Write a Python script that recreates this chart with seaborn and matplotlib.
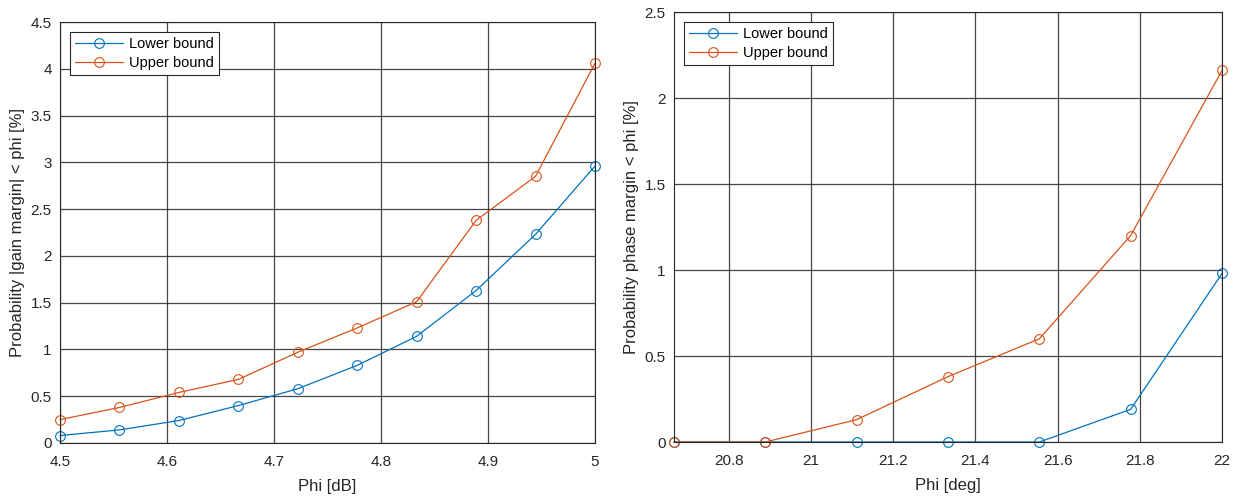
import matplotlib
matplotlib.use('Agg')
import matplotlib.pyplot as plt
import numpy as np
import pandas as pd
import seaborn as sns

# gain margin data (left)
phi_db = [4.5, 4.5556, 4.6111, 4.6667, 4.7222, 4.7778, 4.8333, 4.8889, 4.9444, 5.0]
gain_lower = [0.08, 0.14, 0.24, 0.40, 0.58, 0.83, 1.14, 1.63, 2.23, 2.96]
gain_upper = [0.25, 0.38, 0.54, 0.68, 0.97, 1.23, 1.51, 2.38, 2.85, 4.06]

# phase margin data (right)
phi_deg = [20.6667, 20.8889, 21.1111, 21.3333, 21.5556, 21.7778, 22.0]
phase_lower = [0.0, 0.0, 0.0, 0.0, 0.0, 0.19, 0.98]
phase_upper = [0.0, 0.0, 0.13, 0.38, 0.60, 1.20, 2.16]

series_names = ['Lower bound', 'Upper bound']
colors = ['#0072BD', '#D95319']
txt = '#262626'

sns.set_style('white')
plt.rcParams['font.family'] = ['Liberation Sans', 'DejaVu Sans']

fig = plt.figure(figsize=(12.33, 4.97), dpi=100)
ax1 = fig.add_axes([60 / 1233, 1 - 443 / 497, 535 / 1233, 421 / 497])
ax2 = fig.add_axes([674 / 1233, 1 - 442 / 497, 548 / 1233, 430 / 497])


def draw(ax, x, lower, upper):
    df = pd.DataFrame({
        'x': list(x) * 2,
        'y': list(lower) + list(upper),
        'series': [series_names[0]] * len(x) + [series_names[1]] * len(x),
    })
    sns.lineplot(data=df, x='x', y='y', hue='series', palette=colors, ax=ax,
                 marker='o', markersize=7, markerfacecolor='none',
                 markeredgewidth=0.8, linewidth=0.9, sort=False)
    for line, c in zip(ax.get_lines(), colors):
        line.set_markeredgecolor(c)
    ax.grid(True, color=txt, linewidth=0.9, alpha=0.85)
    for s in ax.spines.values():
        s.set_color(txt)
        s.set_linewidth(0.8)
    ax.tick_params(direction='in', labelsize=11, colors=txt, length=4)
    ax.tick_params(axis='x', pad=8.5)
    ax.tick_params(axis='y', pad=6)
    leg = ax.legend(loc='upper left', fontsize=10.5, fancybox=False,
                    edgecolor=txt, framealpha=1, borderaxespad=0.7,
                    handlelength=3.3, handletextpad=0.35, borderpad=0.35,
                    labelspacing=0.3)
    leg.get_frame().set_linewidth(0.8)
    for h, c in zip(leg.get_lines(), colors):
        h.set_markeredgecolor(c)
        h.set_markerfacecolor('none')
    for t in leg.get_texts():
        t.set_color('black')


draw(ax1, phi_db, gain_lower, gain_upper)
ax1.set_xlim(4.5, 5.0)
ax1.set_ylim(0, 4.5)
ax1.set_xticks([4.5, 4.6, 4.7, 4.8, 4.9, 5.0])
ax1.set_xticklabels(['4.5', '4.6', '4.7', '4.8', '4.9', '5'])
ax1.set_yticks(np.arange(0, 4.51, 0.5))
ax1.set_yticklabels(['0', '0.5', '1', '1.5', '2', '2.5', '3', '3.5', '4', '4.5'])
ax1.set_xlabel('Phi [dB]', fontsize=12, color=txt, labelpad=7)
ax1.set_ylabel('Probability |gain margin| < phi [%]', fontsize=12, color=txt)

draw(ax2, phi_deg, phase_lower, phase_upper)
ax2.set_xlim(20.6667, 22.0)
ax2.set_ylim(0, 2.5)
ax2.set_xticks([20.8, 21.0, 21.2, 21.4, 21.6, 21.8, 22.0])
ax2.set_xticklabels(['20.8', '21', '21.2', '21.4', '21.6', '21.8', '22'])
ax2.set_yticks([0, 0.5, 1, 1.5, 2, 2.5])
ax2.set_yticklabels(['0', '0.5', '1', '1.5', '2', '2.5'])
ax2.set_xlabel('Phi [deg]', fontsize=12, color=txt, labelpad=7)
ax2.set_ylabel('Probability phase margin < phi [%]', fontsize=12, color=txt)

for a in (ax1, ax2):
    for line in a.get_lines():
        line.set_clip_on(False)

fig.savefig('out.png', dpi=100)
